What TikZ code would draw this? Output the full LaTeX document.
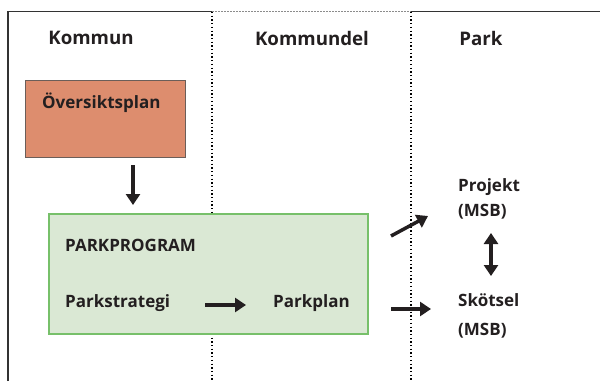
\documentclass[tikz,border=0pt]{standalone}
\usepackage{fontspec}
\setmainfont{Open Sans}
\usetikzlibrary{arrows.meta,positioning}
\definecolor{salmon}{rgb}{0.867,0.553,0.431}
\definecolor{salmonrand}{rgb}{0.42,0.37,0.35}
\definecolor{ljusgron}{rgb}{0.855,0.910,0.831}
\definecolor{gronrand}{rgb}{0.467,0.753,0.416}
\definecolor{textsvart}{rgb}{0.137,0.122,0.125}

\tikzset{
  rubrik/.style={font=\fontsize{18.7}{21}\selectfont\bfseries, text=textsvart, inner sep=0pt},
  etikett/.style={font=\fontsize{17}{20}\selectfont\bfseries, text=textsvart, inner sep=0pt, anchor=west},
  pil/.style={line width=3.5pt, color=textsvart, -{Triangle[length=11pt,width=14pt]}},
  dubbelpil/.style={line width=3.5pt, color=textsvart, {Triangle[length=11pt,width=14pt]}-{Triangle[length=11pt,width=14pt]}},
  skiljelinje/.style={line width=1.3pt, dash pattern=on 1.3pt off 2.4pt}
}

\begin{document}
\begin{tikzpicture}[line cap=butt,line join=miter,x=1pt,y=-1pt]
\useasboundingbox (0,0) rectangle (600,381);
% ram
\draw [line width=1.5pt, color=black!80] (8,381) -- (8,11.5) -- (212,11.5);
\draw [line width=1.5pt, color=black!80] (411,11.5) -- (600,11.5);
\draw [line width=1.5pt, color=black!45, dash pattern=on 2pt off 1pt] (212,11.5) -- (411,11.5);
% kolumner
\draw [skiljelinje] (212,12) -- (212,381);
\draw [skiljelinje] (411,12) -- (411,381);
\node[rubrik] (kommun) at (91,38) {Kommun};
\node[rubrik] (kommundel) at (312,38) {Kommundel};
\node[rubrik] (park) at (481,38) {Park};
% boxar
\node[draw=salmonrand, fill=salmon, line width=1pt, minimum width=160pt, minimum height=77pt, anchor=north west] (oversikt) at (25,80) {};
\node[etikett] (oversiktstext) at (42,103) {Översiktsplan};
\node[draw=gronrand, fill=ljusgron, line width=1.5pt, minimum width=319pt, minimum height=120pt, anchor=north west] (program) at (48,213) {};
\node[etikett] (parkprogram) at (65,245) {PARKPROGRAM};
\node[etikett] (strategi) at (65,303) {Parkstrategi};
\node[etikett] (parkplan) at (273,303) {Parkplan};
\node[etikett] (projekt) at (458,187) {Projekt};
\node[etikett, below=8pt of projekt.south west, anchor=north west] (msb1) {(MSB)};
\node[etikett] (skotsel) at (458,300) {Skötsel};
\node[etikett, below=16pt of skotsel.south west, anchor=north west] (msb2) {(MSB)};
% pilar
\coordinate (ovstart) at (133,165);
\draw [pil, shorten >=8pt] (ovstart) -- (ovstart |- program.north);
\coordinate (strslut) at (246,305);
\draw [pil, shorten <=35pt] (strategi.east |- strslut) -- (strslut);
\coordinate (projstart) at (391,236);
\coordinate (projslut) at (428,216);
\draw [pil] (projstart) -- (projslut);
\coordinate (skotstart) at (391,309);
\coordinate (skotslut) at (431,309);
\draw [pil] (skotstart) -- (skotslut);
\coordinate (dubbel) at (491,0);
\draw [dubbelpil] (dubbel |- 0,233) -- (dubbel |- 0,276);
\end{tikzpicture}
\end{document}
